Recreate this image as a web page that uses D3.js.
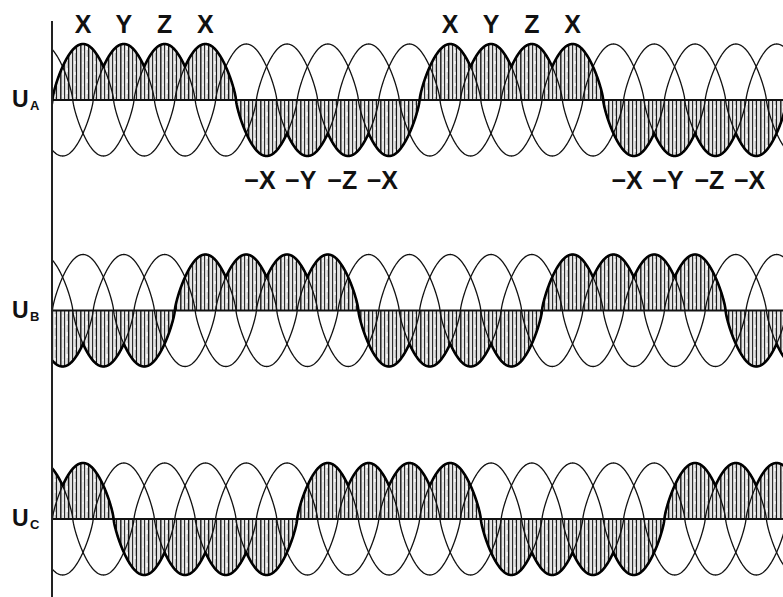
<!DOCTYPE html>
<html>
<head>
<meta charset="utf-8">
<script src="https://cdn.jsdelivr.net/npm/d3@7"></script>
<style>
  html, body { margin: 0; padding: 0; background: #fff; }
  svg { display: block; }
  text { font-family: "Liberation Sans", Arial, sans-serif; font-weight: bold; fill: #111; }
</style>
</head>
<body>
<svg id="chart" width="783" height="597"></svg>
<script>
// Three supply phases: angle (input degrees) of each phase's positive peak
const phaseNames = ["X", "Y", "Z"];
const phasePeakDeg = [0, 120, 240];

// Output rows and their shift relative to U_A (input degrees)
const rowNames = ["A", "B", "C"];
const rowShiftDeg = [0, 360, 720];

// One output half-wave: boundaries (degrees from its start) and the phase followed in each piece
const halfWaveEdgesDeg = [0, 150, 270, 390, 540];
const halfWavePhases = ["X", "Y", "Z", "X"];

// Labels written above / below the first output row
const positiveLabels = ["X", "Y", "Z", "X"];
const negativeLabels = ["−X", "−Y", "−Z", "−X"];

const W = 783, H = 597;
const axisX = 52;
const rowAxisY = [100, 310.5, 519];
const amp = 56;
const shapeExp = 0.75;

const svg = d3.select("#chart");

// x: input phase angle in degrees → pixels (0° = peak of X)
const x = d3.scaleLinear().domain([0, 360]).range([83, 83 + 122.4]);
const degMin = x.invert(axisX), degMax = x.invert(W + 2);

const wave = d => {
  const c = Math.cos(d * Math.PI / 180);
  return Math.sign(c) * Math.pow(Math.abs(c), shapeExp);
};

// hatch pattern: irregular vertical strokes on a light ground
const defs = svg.append("defs");
const pat = defs.append("pattern").attr("id", "hatch")
  .attr("patternUnits", "userSpaceOnUse").attr("width", 20).attr("height", 11);
pat.append("rect").attr("width", 20).attr("height", 11).attr("fill", "#e4e4e4");
[[0.8, 1.4], [4.6, 1.0], [8.6, 1.5], [12.6, 1.0], [16.4, 1.3]].forEach(([px, w]) => {
  pat.append("rect").attr("x", px - w / 2).attr("y", 0).attr("width", w).attr("height", 11).attr("fill", "#1a1a1a");
});
pat.append("rect").attr("x", 6.2).attr("y", 2).attr("width", 1.6).attr("height", 4).attr("fill", "#fcfcfc");
pat.append("rect").attr("x", 14.2).attr("y", 6).attr("width", 1.4).attr("height", 3).attr("fill", "#fcfcfc");
pat.append("rect").attr("x", 2.4).attr("y", 7).attr("width", 1.2).attr("height", 2).attr("fill", "#fcfcfc");

defs.append("clipPath").attr("id", "plotClip")
  .append("rect").attr("x", axisX).attr("y", 0).attr("width", W - axisX).attr("height", H);

const plot = svg.append("g").attr("clip-path", "url(#plotClip)");

rowNames.forEach((rn, r) => {
  const y0 = rowAxisY[r];
  const y = d3.scaleLinear().domain([-1, 1]).range([y0 + amp, y0 - amp]);
  const g = plot.append("g");

  // output half-waves (hatched area + bold outline)
  const halfWaves = [];
  for (let n = -3; n < 8; n++) {
    const start = -90 + rowShiftDeg[r] - 1080 + n * 540;
    const sign = (n % 2 === 0) ? 1 : -1;
    if (start + 540 < degMin || start > degMax) continue;
    const pts = [];
    halfWavePhases.forEach((p, i) => {
      const a = start + halfWaveEdgesDeg[i], b = start + halfWaveEdgesDeg[i + 1];
      const peak = start + 90 + 120 * i;
      for (let d = a; d <= b + 1e-9; d += 1) pts.push([d, sign * wave(d - peak)]);
    });
    halfWaves.push(pts);
  }

  const area = d3.area().x(d => x(d[0])).y0(y(0)).y1(d => y(d[1]));
  const line = d3.line().x(d => x(d[0])).y(d => y(d[1]));

  g.selectAll("path.fill").data(halfWaves).join("path")
    .attr("class", "fill").attr("d", area).attr("fill", "url(#hatch)");

  // thin supply-phase curves
  phaseNames.forEach((p, i) => {
    const pts = d3.range(degMin - 2, degMax + 2, 1).map(d => [d, wave(d - phasePeakDeg[i])]);
    g.append("path").attr("d", line(pts)).attr("fill", "none")
      .attr("stroke", "#111").attr("stroke-width", 1.3);
  });

  // zero line
  g.append("line").attr("x1", axisX).attr("x2", W).attr("y1", y(0)).attr("y2", y(0))
    .attr("stroke", "#111").attr("stroke-width", 2);

  // bold outline of output voltage
  g.selectAll("path.env").data(halfWaves).join("path")
    .attr("class", "env").attr("d", line).attr("fill", "none")
    .attr("stroke", "#000").attr("stroke-width", 2.6).attr("stroke-linejoin", "round");

  // row label U with subscript
  svg.append("text").attr("x", 12).attr("y", y0 + 7).attr("font-size", 23).text("U");
  svg.append("text").attr("x", 30).attr("y", y0 + 10).attr("font-size", 13).text(rn);
});

// phase labels on row A
[0, 1080].forEach(off => {
  positiveLabels.forEach((t, i) => {
    svg.append("text").attr("x", x(off + 120 * i)).attr("y", 33)
      .attr("text-anchor", "middle").attr("font-size", 25).text(t);
  });
  negativeLabels.forEach((t, i) => {
    const cx = x(off + 540 + 120 * i);
    svg.append("text").attr("x", cx + 9).attr("y", 189)
      .attr("text-anchor", "end").attr("font-size", 25).text(t);
  });
});

// vertical axis
svg.append("line").attr("x1", axisX).attr("x2", axisX).attr("y1", 21).attr("y2", H)
  .attr("stroke", "#222").attr("stroke-width", 2);
</script>
</body>
</html>
